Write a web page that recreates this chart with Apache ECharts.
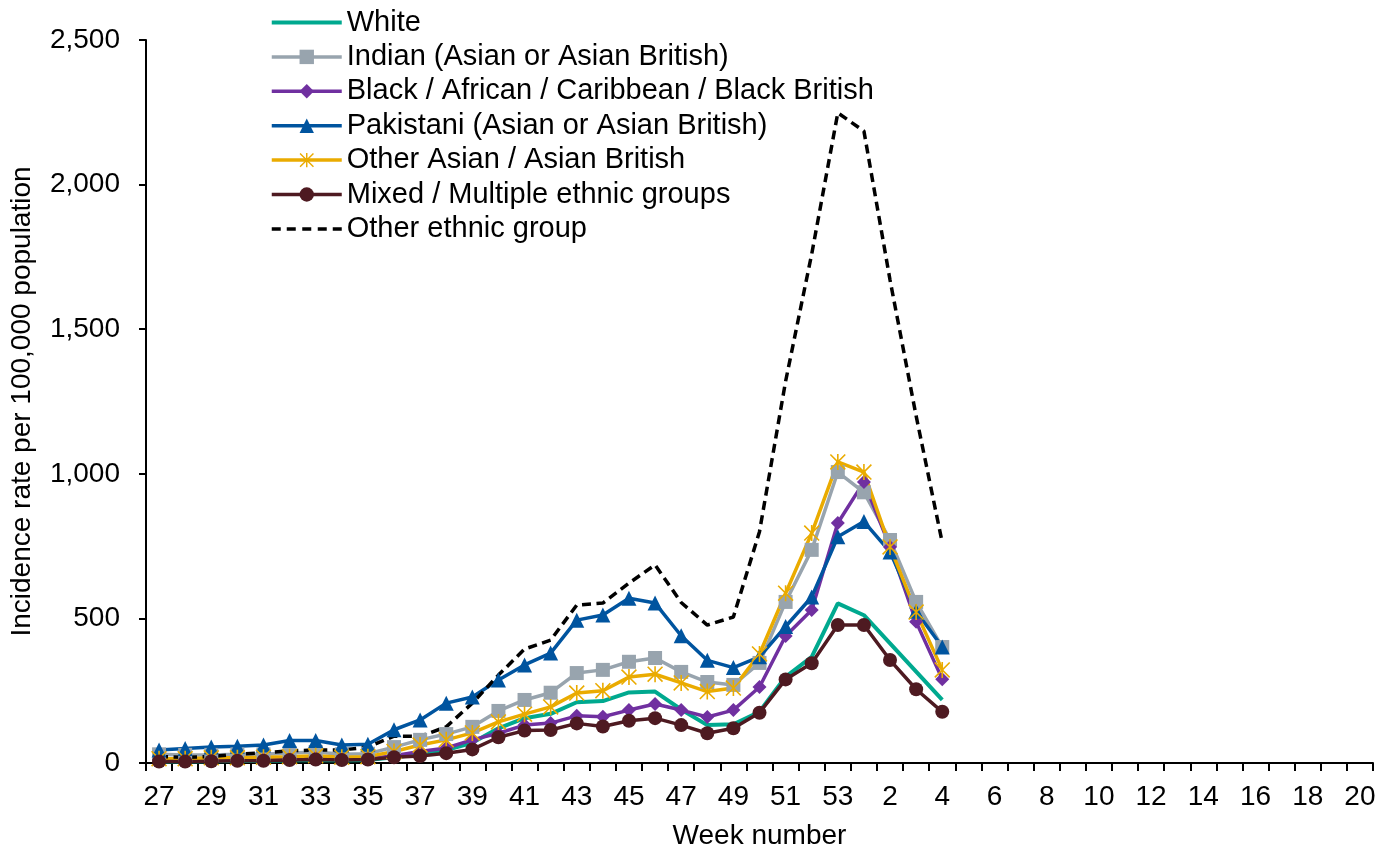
<!DOCTYPE html>
<html>
<head>
<meta charset="utf-8">
<script src="https://cdn.jsdelivr.net/npm/echarts@6/dist/echarts.min.js"></script>
<style>
html,body{margin:0;padding:0;background:#fff;}
#chart{width:1381px;height:852px;}
</style>
</head>
<body>
<div id="chart"></div>
<script>
// Week categories (27..53 of first year, then 1..20)
const categories = ['27','28','29','30','31','32','33','34','35','36','37','38','39','40','41','42','43','44','45','46','47','48','49','50','51','52','53',
  '1','2','3','4','5','6','7','8','9','10','11','12','13','14','15','16','17','18','19','20'];

const white = [5,5,6,7,8,9,10,9,10,20,30,45,70,120,155,170,210,214,244,247,185,131,134,177,298,367,552,511,414,316,218];
const indian = [30,28,28,30,30,35,38,30,32,55,80,100,125,180,218,243,311,322,350,363,315,280,270,346,557,737,1006,936,771,557,401];
const black = [10,10,12,12,13,15,18,15,15,25,40,52,80,103,131,138,163,160,183,204,183,159,183,263,439,529,830,972,747,488,290];
const pakistani = [45,50,55,58,62,78,78,62,65,115,149,207,228,287,339,380,494,512,570,553,440,355,330,367,472,574,782,835,730,525,401];
const otherAsian = [15,15,18,18,20,22,25,20,22,40,62,80,104,142,169,194,242,250,297,307,277,247,259,377,587,795,1041,1006,747,522,322];
const mixed = [5,5,6,8,8,10,12,10,12,20,24,34,47,89,112,114,137,126,146,155,131,103,120,174,289,345,477,477,356,255,177];
const otherEthnic = [22,20,22,31,35,42,45,45,55,93,92,125,207,304,394,425,546,553,622,685,555,477,505,800,1320,1760,2248,2185,1670,1200,762];

const seriesNames = ['White','Indian (Asian or Asian British)','Black / African / Caribbean / Black British','Pakistani (Asian or Asian British)','Other Asian / Asian British','Mixed / Multiple ethnic groups','Other ethnic group'];

const starPath = 'path://M9,0 L11,0 L11,20 L9,20 Z M0,1.4 L1.4,0 L20,18.6 L18.6,20 Z M18.6,0 L20,1.4 L1.4,20 L0,18.6 Z';
const solidIcon = 'path://M0,0 L70,0 L70,4 L0,4 Z';
const dashIcon = 'path://M0,0 L9,0 L9,3.5 L0,3.5 Z M15,0 L24,0 L24,3.5 L15,3.5 Z M30.5,0 L39.5,0 L39.5,3.5 L30.5,3.5 Z M46,0 L55,0 L55,3.5 L46,3.5 Z M61,0 L70,0 L70,3.5 L61,3.5 Z';

const FONT = 'Liberation Sans, Arial, sans-serif';

function mk(name, data, color, symbol, size, extraLine) {
  return {
    name: name,
    type: 'line',
    data: data,
    symbol: symbol,
    symbolSize: size,
    showSymbol: symbol !== 'none',
    color: color,
    itemStyle: {color: color},
    lineStyle: Object.assign({color: color, width: 3.5}, extraLine || {}),
    emphasis: {disabled: true},
    animation: false
  };
}

const chart = echarts.init(document.getElementById('chart'), null, {renderer: 'canvas'});
chart.setOption({
  backgroundColor: '#ffffff',
  animation: false,
  textStyle: {fontFamily: FONT},
  grid: {left: 146, right: 8, top: 40, bottom: 89, containLabel: false, outerBoundsMode: 'none'},
  legend: {
    orient: 'vertical',
    left: 265,
    top: 2.5,
    itemWidth: 70,
    itemHeight: 18,
    itemGap: 4.4,
    lineStyle: {width: 3.5},
    textStyle: {fontSize: 29, color: '#000', lineHeight: 30, fontFamily: FONT},
    data: [
      {name: seriesNames[0], icon: solidIcon},
      {name: seriesNames[1]},
      {name: seriesNames[2]},
      {name: seriesNames[3]},
      {name: seriesNames[4]},
      {name: seriesNames[5]},
      {name: seriesNames[6], icon: dashIcon}
    ]
  },
  xAxis: {
    type: 'category',
    data: categories,
    boundaryGap: true,
    name: 'Week number',
    nameLocation: 'middle',
    nameGap: 59,
    nameTextStyle: {fontSize: 28, color: '#000', fontFamily: FONT},
    axisLine: {lineStyle: {color: '#000', width: 2}},
    axisTick: {show: true, length: 8, interval: 0, lineStyle: {color: '#000', width: 2}},
    axisLabel: {interval: 1, fontSize: 28, color: '#000', margin: 20, fontFamily: FONT},
    splitLine: {show: false}
  },
  yAxis: {
    type: 'value',
    min: 0,
    max: 2500,
    interval: 500,
    name: 'Incidence rate per 100,000 population',
    nameLocation: 'middle',
    nameGap: 110,
    nameTextStyle: {fontSize: 28, color: '#000', fontFamily: FONT},
    axisLine: {show: true, lineStyle: {color: '#000', width: 2}},
    axisTick: {show: true, length: 7, lineStyle: {color: '#000', width: 2}},
    axisLabel: {fontSize: 28, color: '#000', margin: 26, fontFamily: FONT, formatter: v => v.toLocaleString('en-US')},
    splitLine: {show: false}
  },
  series: [
    mk(seriesNames[0], white, '#00A98F', 'none', 0, {width: 4}),
    mk(seriesNames[1], indian, '#98A4AE', 'rect', 14),
    mk(seriesNames[2], black, '#7030A0', 'diamond', 14),
    mk(seriesNames[3], pakistani, '#00549F', 'triangle', 15),
    mk(seriesNames[4], otherAsian, '#EAAB00', starPath, 16),
    mk(seriesNames[5], mixed, '#4E1A21', 'circle', 14),
    mk(seriesNames[6], otherEthnic, '#000000', 'none', 0, {type: [9, 5.5], width: 3.5})
  ]
});
</script>
</body>
</html>
